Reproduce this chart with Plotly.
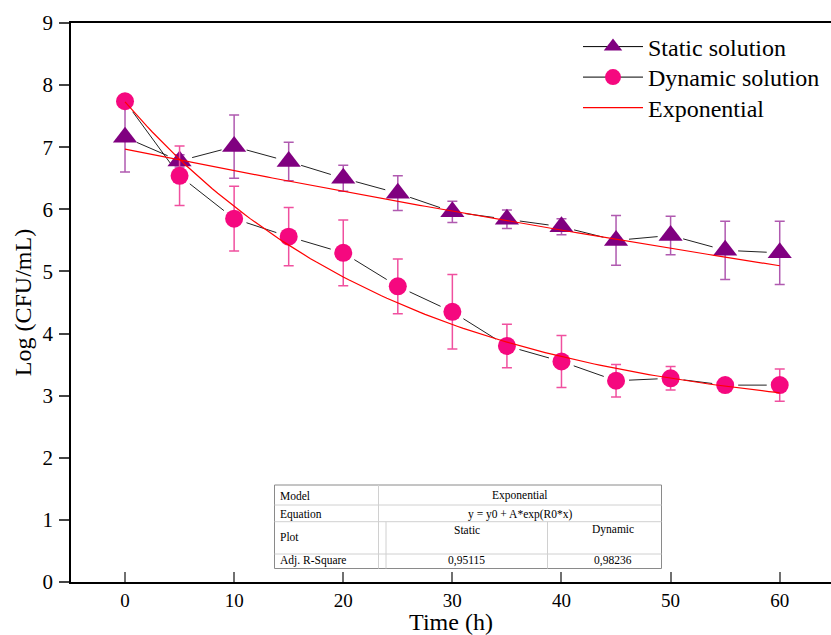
import plotly.graph_objects as go
import numpy as np

# ---- data ----
time_h = [0, 5, 10, 15, 20, 25, 30, 35, 40, 45, 50, 55, 60]
static_log = [7.16, 6.78, 7.01, 6.77, 6.50, 6.26, 5.96, 5.84, 5.72, 5.50, 5.58, 5.34, 5.30]
static_err = [0.56, 0.10, 0.51, 0.31, 0.21, 0.28, 0.17, 0.15, 0.13, 0.40, 0.31, 0.47, 0.51]
dynamic_log = [7.74, 6.54, 5.85, 5.56, 5.30, 4.76, 4.35, 3.80, 3.55, 3.24, 3.28, 3.17, 3.17]
dynamic_err = [0.05, 0.48, 0.52, 0.47, 0.53, 0.44, 0.60, 0.35, 0.42, 0.26, 0.19, 0.10, 0.26]

# exponential fits y = y0 + A*exp(R0*x)
static_fit = dict(y0=-1.36, A=8.33, R0=-0.00426)
dynamic_fit = dict(y0=2.56, A=5.17, R0=-0.0394)

table_rows = [["Model", "Exponential"],
              ["Equation", "y = y0 + A*exp(R0*x)"],
              ["Plot", "Static", "Dynamic"],
              ["Adj. R-Square", "0,95115", "0,98236"]]

FONT = "Liberation Serif, Times New Roman, serif"
W, H = 831, 635
ML, MR, MT, MB = 71, 0, 23, 53
PW, PH = W - ML - MR, H - MT - MB
XR = [-4.95, 64.7]
YR = [0, 9]

def px(x):
    return (x - ML) / PW

def py(y):
    return (H - MB - y) / PH

# connecting line with small gaps at the markers (Origin style)
SX = PW / (XR[1] - XR[0])
SY = PH / (YR[1] - YR[0])
GAP = 13.0

def gapped(xs, ys):
    gx, gy = [], []
    for i in range(len(xs) - 1):
        x0, y0, x1, y1 = xs[i], ys[i], xs[i + 1], ys[i + 1]
        L = np.hypot((x1 - x0) * SX, (y1 - y0) * SY)
        if L > 2 * GAP:
            t = GAP / L
            gx += [x0 + t * (x1 - x0), x1 - t * (x1 - x0), None]
            gy += [y0 + t * (y1 - y0), y1 - t * (y1 - y0), None]
    return gx, gy

fig = go.Figure()

for ys in (static_log, dynamic_log):
    gx, gy = gapped(time_h, ys)
    fig.add_trace(go.Scatter(x=gx, y=gy, mode="lines", showlegend=False,
                             line=dict(color="#222222", width=1), hoverinfo="skip"))

fig.add_trace(go.Scatter(
    x=time_h, y=static_log, name="Static solution", mode="markers", showlegend=False,
    marker=dict(symbol="triangle-up", size=21, color="#800080"),
    error_y=dict(type="data", array=static_err, color="#b05ab0", thickness=1.5, width=5),
))
fig.add_trace(go.Scatter(
    x=time_h, y=dynamic_log, name="Dynamic solution", mode="markers", showlegend=False,
    marker=dict(symbol="circle", size=18, color="#f5087f"),
    error_y=dict(type="data", array=dynamic_err, color="#f0509f", thickness=1.5, width=5),
))

# legend-only entries
fig.add_trace(go.Scatter(x=[None], y=[None], name="Static solution", mode="lines+markers",
                         legend="legend", line=dict(color="black", width=1),
                         marker=dict(symbol="triangle-up", size=21, color="#800080")))
fig.add_trace(go.Scatter(x=[None], y=[None], name="Dynamic solution", mode="lines+markers",
                         legend="legend2", line=dict(color="black", width=1),
                         marker=dict(symbol="circle", size=18, color="#f5087f")))

xf = np.linspace(0, 60, 121)
for i, p in enumerate([static_fit, dynamic_fit]):
    fig.add_trace(go.Scatter(
        x=xf, y=p["y0"] + p["A"] * np.exp(p["R0"] * xf),
        name="Exponential", mode="lines", showlegend=(i == 0), legend="legend3",
        line=dict(color="#ff0000", width=1.2),
    ))

# ---- table (as shapes + annotations) ----
tl, tr, tt, tb = 274.5, 661.5, 485, 568.5
r1, r2, r3 = 505, 521.7, 554
c1, c1b, c2 = 378.5, 386, 547.5
shapes = []
def seg(x0, y0, x1, y1, color="#d0d0d0", w=1):
    shapes.append(dict(type="line", xref="paper", yref="paper",
                       x0=px(x0), y0=py(y0), x1=px(x1), y1=py(y1),
                       line=dict(color=color, width=w)))
shapes.append(dict(type="rect", xref="paper", yref="paper",
                   x0=px(tl), y0=py(tb), x1=px(tr), y1=py(tt),
                   line=dict(color="#8a8a8a", width=1), fillcolor="white", layer="above"))
for ry in (r1, r2, r3):
    seg(tl, ry, tr, ry)
seg(c1, tt, c1, tb)
seg(c1b, r2, c1b, tb)
seg(c2, r2, c2, tb)

annotations = []
def txt(x, y, s, anchor="center"):
    annotations.append(dict(xref="paper", yref="paper", x=px(x), y=py(y), text=s,
                            showarrow=False, xanchor=anchor, yanchor="middle",
                            font=dict(family=FONT, size=11.5, color="black")))
txt(277.5, 495.5, table_rows[0][0], "left")
txt(520, 495.5, table_rows[0][1])
txt(277.5, 514, table_rows[1][0], "left")
txt(520, 514, table_rows[1][1])
txt(277.5, 537, table_rows[2][0], "left")
txt(467, 529.5, table_rows[2][1])
txt(613, 529.5, table_rows[2][2])
txt(277.5, 560.5, table_rows[3][0], "left")
txt(467, 560.5, table_rows[3][1])
txt(613, 560.5, table_rows[3][2])

def leg(yc):
    return dict(x=px(578), y=py(yc), xanchor="left", yanchor="middle",
                bgcolor="rgba(0,0,0,0)", font=dict(family=FONT, size=24),
                tracegroupgap=0, itemwidth=60)

fig.update_layout(
    width=W, height=H,
    margin=dict(l=ML, r=MR, t=MT, b=MB, pad=0),
    paper_bgcolor="white", plot_bgcolor="white",
    font=dict(family=FONT, size=20, color="black"),
    showlegend=True,
    legend=leg(47), legend2=leg(77.5), legend3=leg(108),
    shapes=shapes, annotations=annotations,
    xaxis=dict(range=XR, tickvals=[0, 10, 20, 30, 40, 50, 60],
               showgrid=False, zeroline=False, showline=True, linecolor="black",
               linewidth=1.5, mirror=True, ticks="inside", ticklen=10,
               tickcolor="#707070", tickwidth=1.5,
               title=dict(text="Time (h)", font=dict(family=FONT, size=24), standoff=1),
               tickfont=dict(family=FONT, size=19)),
    yaxis=dict(range=YR, tickvals=list(range(10)),
               showgrid=False, zeroline=False, showline=True, linecolor="black",
               linewidth=1.5, ticks="outside", ticklen=10, tickcolor="#444444", tickwidth=1.5,
               ticklabelstandoff=2,
               title=dict(text="Log (CFU/mL)", font=dict(family=FONT, size=24), standoff=4),
               tickfont=dict(family=FONT, size=21)),
)

fig.write_html("out.html", config={"displayModeBar": False},
               post_script="document.body.style.margin='0px';")
